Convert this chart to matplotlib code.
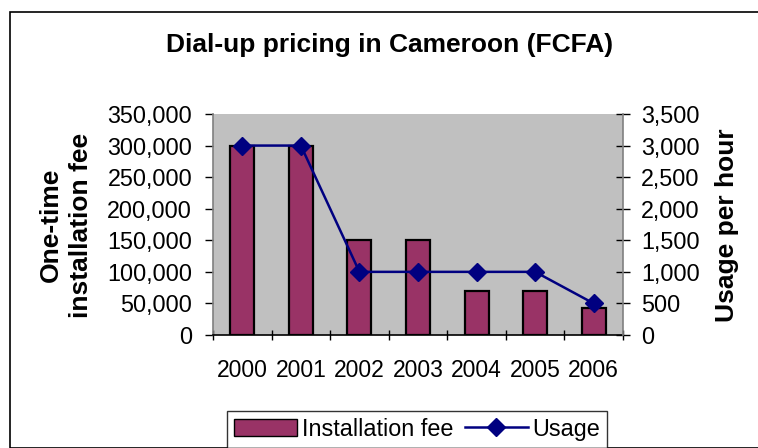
import matplotlib
matplotlib.use("Agg")
import matplotlib.pyplot as plt
from matplotlib.patches import Rectangle
import numpy as np

plt.rcParams["font.family"] = ["Liberation Sans", "DejaVu Sans"]

# --- data ---
years = ["2000", "2001", "2002", "2003", "2004", "2005", "2006"]
install_fee = [300000, 300000, 150000, 150000, 70000, 70000, 43000]
usage_per_hour = [3000, 3000, 1000, 1000, 1000, 1000, 500]

fee_ticks = [0, 50000, 100000, 150000, 200000, 250000, 300000, 350000]
usage_ticks = [0, 500, 1000, 1500, 2000, 2500, 3000, 3500]

BAR_COLOR = "#993366"
LINE_COLOR = "#000080"
AXIS_GRAY = "#808080"

fig = plt.figure(figsize=(7.58, 4.48), dpi=100)
fig.patches.append(Rectangle((10 / 758, 0), 1.0, 1 - 12 / 448, transform=fig.transFigure,
                             fill=False, edgecolor="black", linewidth=1.2))

ax = fig.add_axes([213 / 758, 1 - 335 / 448, (623 - 213) / 758, (335 - 114) / 448])
ax.set_facecolor("#C0C0C0")

x = np.arange(len(years))
ax.bar(x, install_fee, width=0.41, color=BAR_COLOR, edgecolor="black", linewidth=1.6,
       label="Installation fee", zorder=2)
ax.set_xlim(-0.5, len(years) - 0.5)
ax.set_ylim(0, 350000)
ax.set_yticks(fee_ticks)
ax.set_yticklabels([f"{v:,}" for v in fee_ticks])
ax.set_xticks(x)
ax.set_xticklabels(years)
ax.set_xticks(np.arange(-0.5, len(years), 1.0), minor=True)
ax.tick_params(axis="x", which="major", length=0, pad=17, labelsize=16.5)
ax.tick_params(axis="x", which="minor", length=7, width=1, color="black", direction="inout")
ax.tick_params(axis="y", length=6, width=1, color="black", labelsize=16.8, pad=9)

for side in ["top", "right"]:
    ax.spines[side].set_visible(False)
ax.spines["left"].set_color(AXIS_GRAY)
ax.spines["left"].set_linewidth(1.2)
ax.spines["bottom"].set_color("black")
ax.spines["bottom"].set_linewidth(1.2)

ax2 = ax.twinx()
ax2.plot(x, usage_per_hour, color=LINE_COLOR, linewidth=1.8, marker="D", markersize=9,
         label="Usage", zorder=3)
ax2.set_ylim(0, 3500)
ax2.set_yticks(usage_ticks)
ax2.set_yticklabels([f"{v:,}" for v in usage_ticks])
ax2.tick_params(axis="y", length=10, width=1, color="black", labelsize=16.8, pad=8,
                direction="inout")
for side in ["top", "left", "bottom"]:
    ax2.spines[side].set_visible(False)
ax2.spines["right"].set_color(AXIS_GRAY)
ax2.spines["right"].set_linewidth(1.2)

fig.text(390 / 758, 1 - 45 / 448, "Dial-up pricing in Cameroon (FCFA)", ha="center",
         va="center", fontsize=19, fontweight="bold")
fig.text(66 / 758, 1 - 225 / 448, "One-time\ninstallation fee", ha="center", va="center",
         rotation=90, fontsize=19, fontweight="bold", linespacing=1.3)
fig.text(727 / 758, 1 - 225 / 448, "Usage per hour", ha="center", va="center",
         rotation=90, fontsize=19, fontweight="bold")

h1, l1 = ax.get_legend_handles_labels()
h2, l2 = ax2.get_legend_handles_labels()
leg = fig.legend(h1 + h2, l1 + l2, loc="center", bbox_to_anchor=(417 / 758, 1 - 429 / 448),
                 ncol=2, fontsize=16.8, frameon=True, fancybox=False, edgecolor="black",
                 handlelength=2.7, handleheight=0.75, handletextpad=0.2, columnspacing=0.5,
                 borderpad=0.3, borderaxespad=0)
leg.get_frame().set_linewidth(1.0)
leg.legend_handles[0].set_linewidth(1.0)

fig.savefig("out.png", dpi=100)
